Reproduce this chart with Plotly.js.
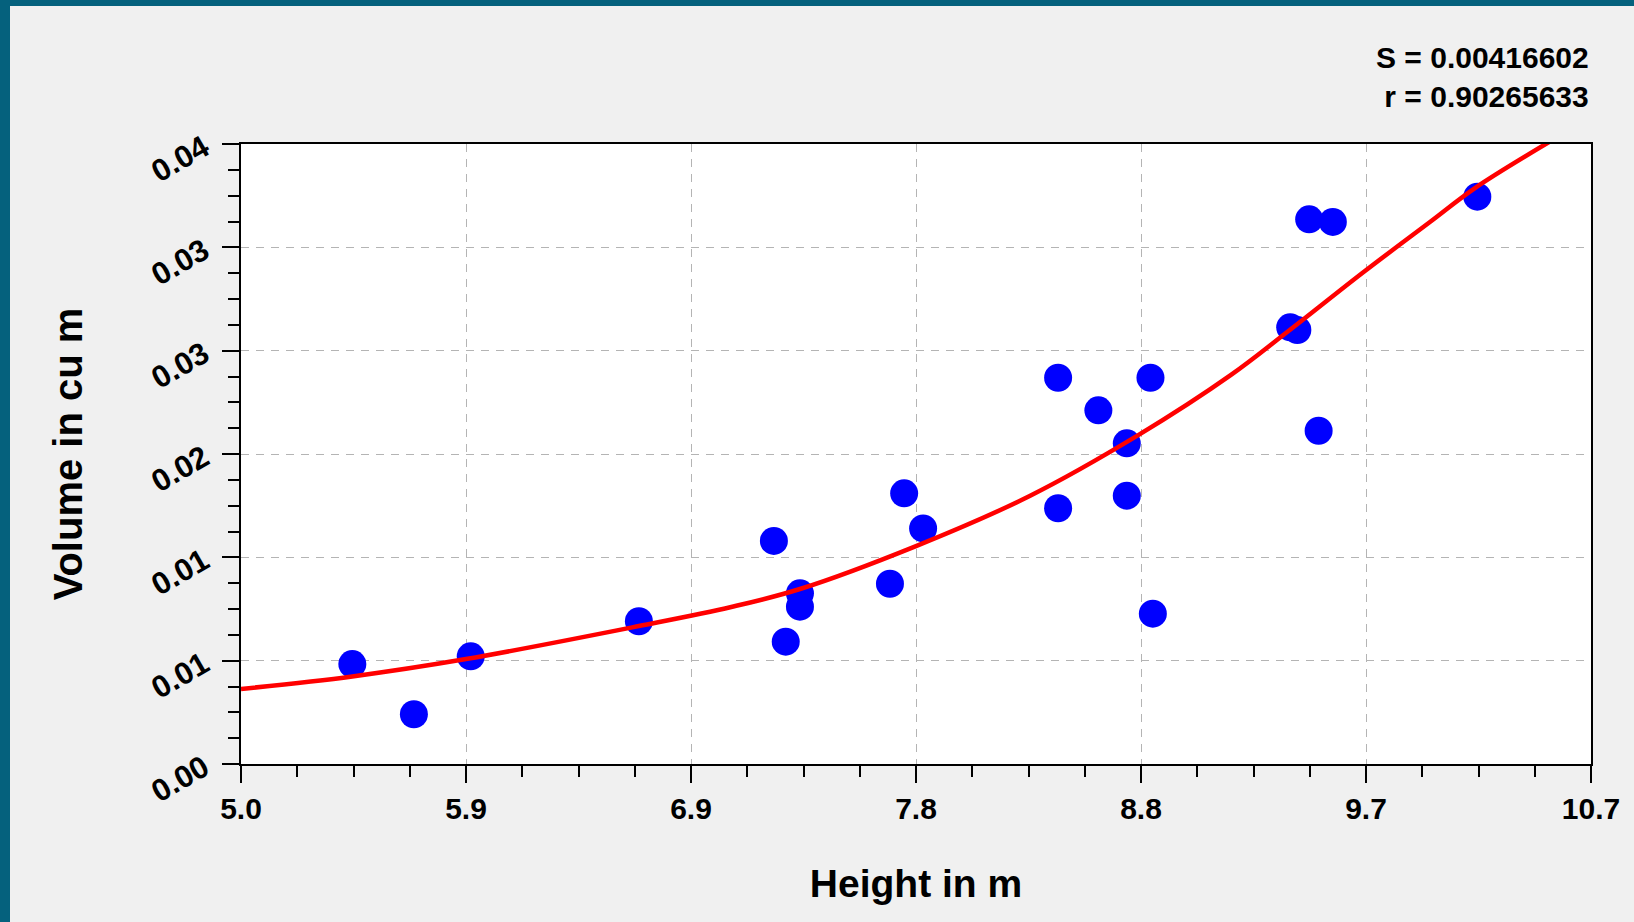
<!DOCTYPE html>
<html>
<head>
<meta charset="utf-8">
<script src="https://cdn.plot.ly/plotly-3.0.1.min.js"></script>
<style>
  html, body { margin: 0; padding: 0; background: #05617d; overflow: hidden; }
  #chart { position: absolute; left: 10px; top: 6px; width: 1624px; height: 916px; }
</style>
</head>
<body>
<div id="chart"></div>
<script>
// Observed data: tree height (m) vs volume (cu m)
const heightM = [5.47, 5.73, 5.97, 6.68, 7.25, 7.36, 7.36, 7.30, 7.74, 7.80, 7.88, 8.45, 8.74, 8.85, 8.74, 8.45, 8.62, 8.84, 9.43, 9.46, 9.51, 9.61, 10.22, 9.55];
const volumeCuM = [0.00645, 0.00321, 0.00695, 0.00921, 0.01439, 0.01101, 0.01015, 0.00789, 0.01163, 0.01746, 0.01520, 0.01650, 0.01731, 0.00970, 0.02069, 0.02492, 0.02282, 0.02492, 0.02817, 0.02800, 0.03514, 0.03497, 0.03660, 0.02150];

// Fitted curve
const fitX = [5.00, 5.47, 5.95, 6.68, 7.07, 7.36, 7.85, 8.33, 8.79, 9.18, 9.42, 9.74, 10.02, 10.21, 10.53];
const fitY = [0.00484, 0.00565, 0.00677, 0.00890, 0.01013, 0.01129, 0.01406, 0.01729, 0.02123, 0.02510, 0.02790, 0.03174, 0.03497, 0.03716, 0.04019];

// Axis ticks
const xTickVals = [5.0, 5.95, 6.9, 7.85, 8.8, 9.75, 10.7];
const xTickText = ['5.0', '5.9', '6.9', '7.8', '8.8', '9.7', '10.7'];
const yTickVals = [0, 0.04/6, 0.08/6, 0.02, 0.16/6, 0.2/6, 0.04];
const yTickText = ['0.00', '0.01', '0.01', '0.02', '0.03', '0.03', '0.04'];

const statsText = ['S = 0.00416602', 'r = 0.90265633'];

const FONT = 'Liberation Sans, Arial, sans-serif';

const traces = [
  {
    x: heightM, y: volumeCuM, type: 'scatter', mode: 'markers',
    marker: { color: '#0000ff', size: 28, line: { width: 0 } },
    hoverinfo: 'skip', cliponaxis: false
  },
  {
    x: fitX, y: fitY, type: 'scatter', mode: 'lines',
    line: { color: '#ff0000', width: 4.5, shape: 'spline', smoothing: 1 },
    hoverinfo: 'skip'
  }
];

const axisCommon = {
  showline: true, linecolor: '#000', linewidth: 2, mirror: true,
  ticks: 'outside', ticklen: 17, tickwidth: 2, tickcolor: '#000',
  showgrid: true, gridcolor: '#b4b4b4', gridwidth: 1, griddash: '8px,7px',
  zeroline: false,
  tickfont: { family: FONT, size: 30, color: '#000', weight: 'bold' },
  fixedrange: true
};

const layout = {
  width: 1624, height: 916,
  paper_bgcolor: '#f0f0f0', plot_bgcolor: '#ffffff',
  margin: { l: 231, r: 43, t: 138, b: 158 },
  showlegend: false,
  xaxis: Object.assign({}, axisCommon, {
    range: [5.0, 10.7],
    tickmode: 'array', tickvals: xTickVals, ticktext: xTickText,
    minor: { tick0: 5.0, dtick: 0.2375, ticks: 'outside', ticklen: 11, tickwidth: 2, tickcolor: '#000', showgrid: false },
    title: { text: 'Height in m', font: { family: FONT, size: 39, color: '#000', weight: 'bold' }, standoff: 46 }
  }),
  yaxis: Object.assign({}, axisCommon, {
    range: [0, 0.04],
    tickmode: 'array', tickvals: yTickVals, ticktext: yTickText,
    tickangle: -30, ticklabelstandoff: 12,
    tickfont: { family: FONT, size: 31, color: '#000', weight: 'bold' },
    minor: { tick0: 0, dtick: 0.04/24, ticks: 'outside', ticklen: 11, tickwidth: 2, tickcolor: '#000', showgrid: false },
    title: { text: 'Volume in cu m', font: { family: FONT, size: 40, color: '#000', weight: 'bold' }, standoff: 50 }
  }),
  annotations: [
    {
      xref: 'paper', yref: 'paper', x: 1.0, y: 1.17, xanchor: 'right', yanchor: 'top',
      text: statsText.join('<br>'), align: 'right', showarrow: false,
      font: { family: FONT, size: 30, color: '#000', weight: 'bold' }
    }
  ]
};

Plotly.newPlot('chart', traces, layout, { displayModeBar: false, staticPlot: true });
</script>
</body>
</html>
